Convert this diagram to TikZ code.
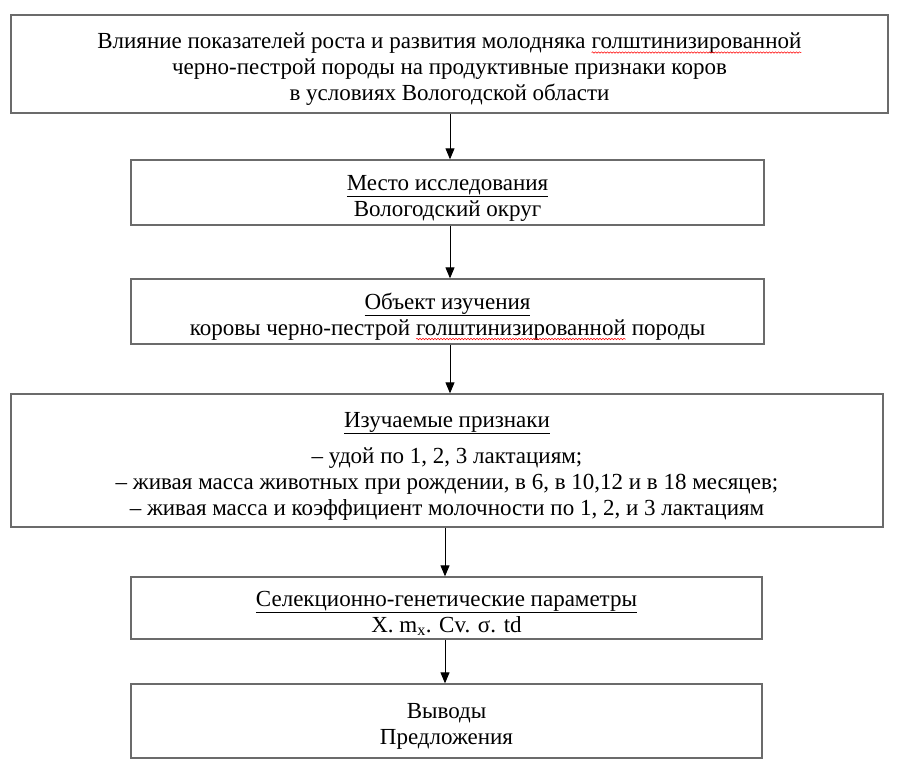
\documentclass[tikz,border=0pt]{standalone}
\usepackage{fontspec}
\setmainfont{Liberation Serif}
\usetikzlibrary{arrows.meta,decorations.pathmorphing}
\newcommand\redwave[1]{\tikz[baseline=(w.base)]{\node[draw=none,fill=none,inner sep=0pt,outer sep=0pt,minimum width=0pt,minimum height=0pt,align=left](w){#1};\draw[red,line width=0.5bp,decorate,decoration={snake,amplitude=0.7bp,segment length=3bp}]([yshift=-4bp]w.base west)--([yshift=-4bp]w.base east);}}
\newcommand\topstrut{\rule{0pt}{26bp}}
\tikzset{
  box/.style={draw=black!58, line width=1.3bp, rectangle, align=center, inner sep=0pt,
    font=\fontsize{23bp}{26bp}\selectfont},
  arr/.style={draw=black, line width=0.9bp, -{Triangle[length=11bp,width=9bp]}}
}
\begin{document}
\begin{tikzpicture}[x=1bp,y=-1bp]
\useasboundingbox (0,0) rectangle (899,768);
\node[box, minimum width=877bp, minimum height=98bp] (b1) at (449.5,64)
  {\topstrut Влияние показателей роста и развития молодняка \redwave{голштинизированной}\\
   черно-пестрой породы на продуктивные признаки коров\\
   в условиях Вологодской области};
\node[box, minimum width=633bp, minimum height=65bp] (b2) at (447.5,192.5)
  {\topstrut\underline{Место исследования}\\ Вологодский округ};
\node[box, minimum width=633bp, minimum height=65bp] (b3) at (447.5,311.5)
  {\topstrut\underline{Объект изучения}\\ коровы черно-пестрой \redwave{голштинизированной} породы};
\node[box, minimum width=872bp, minimum height=133bp] (b4) at (447,460.5)
  {\topstrut\underline{Изучаемые признаки}\\[10bp]
   – удой по 1, 2, 3 лактациям;\\
   – живая масса животных при рождении, в 6, в 10,12 и в 18 месяцев;\\
   – живая масса и коэффициент молочности по 1, 2, и 3 лактациям};
\node[box, minimum width=631bp, minimum height=62bp] (b5) at (446.5,608)
  {\topstrut\underline{Селекционно-генетические параметры}\\ X. m\textsubscript{x}. Cv. σ. td};
\node[box, minimum width=631bp, minimum height=74bp] (b6) at (446.5,721)
  {\topstrut Выводы\\ Предложения};
\coordinate (ca) at (450,0);
\coordinate (cb) at (445,0);
\draw[arr] (b1.south -| ca) -- (b2.north -| ca);
\draw[arr] (b2.south -| ca) -- (b3.north -| ca);
\draw[arr] (b3.south -| ca) -- (b4.north -| ca);
\draw[arr] (b4.south -| cb) -- (b5.north -| cb);
\draw[arr] (b5.south -| cb) -- (b6.north -| cb);
\end{tikzpicture}
\end{document}
